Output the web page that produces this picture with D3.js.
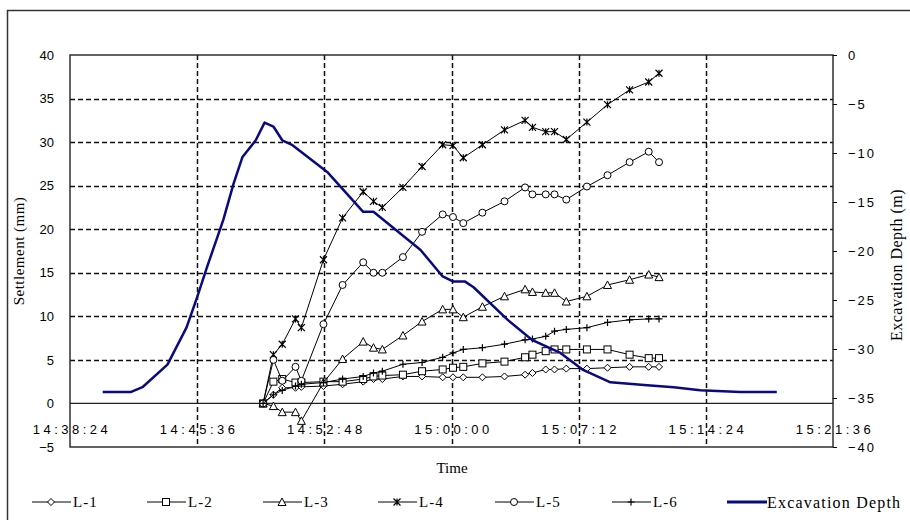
<!DOCTYPE html>
<html>
<head>
<meta charset="utf-8">
<script src="https://cdn.jsdelivr.net/npm/d3@7"></script>
<style>
  body { margin: 0; background: #fff; }
  text { fill: #000; }
</style>
</head>
<body>
<svg id="chart" width="910" height="520"></svg>
<script>
// measurement times shared by the six settlement points
const times = ["14:49:20","14:49:55","14:50:25","14:51:10","14:51:30","14:52:45","14:53:50",
  "14:55:00","14:55:35","14:56:05","14:57:15","14:58:20","14:59:30","15:00:05","15:00:40",
  "15:01:45","15:03:00","15:04:10","15:04:35","15:05:20","15:05:50","15:06:30","15:07:40",
  "15:08:50","15:10:05","15:11:10","15:11:45"];

// settlement (mm)
const l1 = [0,1.0,1.8,1.8,1.9,2.0,2.2,2.5,2.8,2.8,3.1,3.1,3.0,3.0,3.0,3.0,3.1,3.3,3.5,3.9,3.9,4.0,4.0,4.1,4.2,4.2,4.2];
const l2 = [0,2.5,2.8,2.4,2.4,2.5,2.5,2.8,3.1,3.2,3.3,3.7,3.9,4.1,4.2,4.6,4.8,5.3,5.6,6.0,6.2,6.2,6.2,6.2,5.6,5.2,5.2];
const l3 = [0,-0.3,-1.0,-1.0,-2.0,2.4,5.1,7.1,6.4,6.2,7.8,9.4,10.8,10.8,9.9,11.1,12.3,13.1,12.8,12.7,12.7,11.7,12.3,13.6,14.2,14.8,14.5];
const l4 = [0,5.6,6.8,9.7,8.7,16.5,21.3,24.3,23.2,22.5,24.8,27.2,29.7,29.6,28.2,29.7,31.4,32.5,31.7,31.2,31.2,30.3,32.3,34.3,36.0,36.9,37.9];
const l5 = [0,5.0,2.6,4.2,2.6,9.1,13.6,16.2,15.0,15.0,16.8,19.7,21.7,21.4,20.7,21.9,23.2,24.8,24.0,24.0,24.0,23.4,24.9,26.2,27.7,28.9,27.7];
const l6 = [0,1.0,1.5,2.0,2.2,2.4,2.8,3.1,3.5,3.7,4.5,4.7,5.3,5.8,6.2,6.4,6.8,7.3,7.4,7.7,8.3,8.5,8.7,9.3,9.6,9.7,9.7];

// excavation depth (m)
const digTimes = ["14:40:15","14:41:50","14:42:30","14:43:55","14:45:00","14:45:36","14:46:10",
  "14:47:05","14:47:40","14:48:10","14:48:55","14:49:25","14:49:55","14:50:25","14:51:00",
  "14:53:00","14:55:00","14:55:35","14:58:15","14:59:30","15:00:05","15:00:45","15:01:15",
  "15:03:10","15:04:35","15:06:10","15:07:25","15:09:00","15:11:05","15:12:35","15:14:05",
  "15:16:20","15:18:25"];
const digDepth = [-34.4,-34.4,-33.9,-31.6,-27.8,-24.7,-21.6,-16.8,-13.1,-10.4,-8.7,-6.9,-7.3,
  -8.7,-9.2,-12.0,-16.0,-16.0,-19.9,-22.6,-23.1,-23.1,-23.7,-27.0,-29.1,-30.4,-32.1,-33.4,
  -33.7,-33.9,-34.2,-34.4,-34.4];

const timeTicks = ["14:38:24","14:45:36","14:52:48","15:00:00","15:07:12","15:14:24","15:21:36"];
const leftTicks = [-5,0,5,10,15,20,25,30,35,40];
const rightTicks = [-40,-35,-30,-25,-20,-15,-10,-5,0];

const names = ["L-1","L-2","L-3","L-4","L-5","L-6"];
const seriesVals = [l1,l2,l3,l4,l5,l6];
const markers = ["diamond","square","triangle","star","circle","plus"];

const parse = d3.timeParse("%H:%M:%S");
const fmt = d3.timeFormat("%H:%M:%S");

var margin = {top: 55, left: 70, right: 77, bottom: 73},
    W = 910, H = 520,
    width = W - margin.left - margin.right,
    height = H - margin.top - margin.bottom;

var svg = d3.select("#chart");

// outer frame
svg.append("rect")
  .attr("x", 7.5).attr("y", 10.5).attr("width", 920).attr("height", 530)
  .attr("fill", "none").attr("stroke", "#333").attr("stroke-width", 1.5);

var g = svg.append("g").attr("transform", "translate(" + margin.left + "," + margin.top + ")");

var x = d3.scaleTime()
  .domain([parse(timeTicks[0]), parse(timeTicks[timeTicks.length - 1])])
  .range([0, width]);
var y = d3.scaleLinear().domain([-5, 40]).range([height, 0]);
var yR = d3.scaleLinear().domain([-40, 0]).range([height, 0]);

// grid
g.append("g")
  .selectAll("line")
  .data(leftTicks.filter(d => d > 0 && d < 40))
  .join("line")
    .attr("x1", 0).attr("x2", width)
    .attr("y1", d => Math.round(y(d)) + 0.5).attr("y2", d => Math.round(y(d)) + 0.5)
    .attr("stroke", "#111").attr("stroke-width", 1.5).attr("stroke-dasharray", "5,3");
g.append("g")
  .selectAll("line")
  .data(timeTicks.slice(1, -1).map(parse))
  .join("line")
    .attr("x1", d => Math.round(x(d)) + 0.5).attr("x2", d => Math.round(x(d)) + 0.5)
    .attr("y1", 0).attr("y2", height)
    .attr("stroke", "#111").attr("stroke-width", 1.5).attr("stroke-dasharray", "5,3");

// zero line
g.append("line")
  .attr("x1", 0).attr("x2", width).attr("y1", y(0)).attr("y2", y(0))
  .attr("stroke", "#222").attr("stroke-width", 1.2);

// plot border
g.append("rect")
  .attr("width", width).attr("height", height)
  .attr("fill", "none").attr("stroke", "#222").attr("stroke-width", 1.4);

// left axis
var axL = g.append("g")
  .call(d3.axisLeft(y).tickValues(leftTicks).tickSize(0).tickPadding(16));
axL.select(".domain").remove();
axL.selectAll("text").attr("font-family", "Liberation Sans, sans-serif").attr("font-size", 13);

// right axis
var axR = g.append("g")
  .attr("transform", "translate(" + width + ",0)")
  .call(d3.axisRight(yR).tickValues(rightTicks).tickSize(4).tickPadding(11));
axR.select(".domain").remove();
axR.selectAll("text").attr("font-family", "Liberation Sans, sans-serif").attr("font-size", 13)
  .attr("letter-spacing", 2);

// time labels sit inside the plot, between 0 and -5
var axT = g.append("g")
  .attr("transform", "translate(0," + y(0) + ")")
  .call(d3.axisBottom(x).tickValues(timeTicks.map(parse)).tickFormat(fmt).tickSize(0));
axT.select(".domain").remove();
axT.selectAll("text").attr("font-family", "Liberation Sans, sans-serif").attr("font-size", 13)
  .attr("letter-spacing", 3.5).attr("dy", "0.35em").attr("y", 26).attr("dx", 1.5);

// titles
svg.append("text")
  .attr("transform", "translate(24," + (margin.top + height / 2) + ") rotate(-90)")
  .attr("text-anchor", "middle")
  .attr("font-family", "Liberation Serif, serif").attr("font-size", 15)
  .attr("letter-spacing", 0.5)
  .text("Settlement (mm)");
svg.append("text")
  .attr("transform", "translate(902,265) rotate(-90)")
  .attr("text-anchor", "middle")
  .attr("font-family", "Liberation Serif, serif").attr("font-size", 16)
  .attr("letter-spacing", 0.5)
  .text("Excavation Depth (m)");
svg.append("text")
  .attr("x", 452).attr("y", 473)
  .attr("text-anchor", "middle")
  .attr("font-family", "Liberation Serif, serif").attr("font-size", 15)
  .text("Time");

// marker drawing
function drawMarker(sel, type) {
  const s = 3.5;
  if (type === "diamond") {
    sel.append("path").attr("d", `M0,${-s}L${s},0L0,${s}L${-s},0Z`)
      .attr("fill", "#fff").attr("stroke", "#000").attr("stroke-width", 1);
  } else if (type === "square") {
    sel.append("rect").attr("x", -s).attr("y", -s).attr("width", 2 * s).attr("height", 2 * s)
      .attr("fill", "#fff").attr("stroke", "#000").attr("stroke-width", 1);
  } else if (type === "triangle") {
    sel.append("path").attr("d", `M0,${-s - 0.5}L${s + 0.5},${s}L${-s - 0.5},${s}Z`)
      .attr("fill", "#fff").attr("stroke", "#000").attr("stroke-width", 1);
  } else if (type === "circle") {
    sel.append("circle").attr("r", s)
      .attr("fill", "#fff").attr("stroke", "#000").attr("stroke-width", 1);
  } else if (type === "star") {
    sel.append("path").attr("d", `M${-s},${-s}L${s},${s}M${-s},${s}L${s},${-s}M0,${-s}L0,${s}`)
      .attr("fill", "none").attr("stroke", "#000").attr("stroke-width", 1.2);
  } else if (type === "plus") {
    sel.append("path").attr("d", `M0,${-s}L0,${s}M${-s},0L${s},0`)
      .attr("fill", "none").attr("stroke", "#000").attr("stroke-width", 1.2);
  }
}

var tParsed = times.map(parse);
var line = d3.line().x(d => x(d.t)).y(d => y(d.v));

seriesVals.forEach(function(vals, i) {
  var pts = vals.map((v, j) => ({t: tParsed[j], v: v}));
  g.append("path").datum(pts)
    .attr("d", line).attr("fill", "none").attr("stroke", "#000").attr("stroke-width", 1);
  g.append("g").selectAll("g")
    .data(pts)
    .join("g")
      .attr("transform", d => "translate(" + x(d.t) + "," + y(d.v) + ")")
      .each(function() { drawMarker(d3.select(this), markers[i]); });
});

// excavation depth
var digPts = digTimes.map((t, j) => ({t: parse(t), v: digDepth[j]}));
g.append("path").datum(digPts)
  .attr("d", d3.line().x(d => x(d.t)).y(d => yR(d.v)))
  .attr("fill", "none").attr("stroke", "#0a0a80").attr("stroke-width", 2.5)
  .attr("stroke-linejoin", "round");

// legend
var leg = svg.append("g").attr("transform", "translate(0,502)");
var legX = [32, 147, 263, 378, 495, 612];
names.forEach(function(n, i) {
  var it = leg.append("g").attr("transform", "translate(" + legX[i] + ",0)");
  it.append("line").attr("x1", 0).attr("x2", 39).attr("stroke", "#000").attr("stroke-width", 1);
  drawMarker(it.append("g").attr("transform", "translate(19,0)"), markers[i]);
  it.append("text").attr("x", 41).attr("dy", "0.35em")
    .attr("font-family", "Liberation Serif, serif").attr("font-size", 15)
    .attr("letter-spacing", 1).text(n);
});
var itD = leg.append("g").attr("transform", "translate(727,0)");
itD.append("line").attr("x1", 0).attr("x2", 40).attr("stroke", "#0a0a80").attr("stroke-width", 3);
itD.append("text").attr("x", 40).attr("dy", "0.35em")
  .attr("font-family", "Liberation Serif, serif").attr("font-size", 16)
  .attr("letter-spacing", 1.2)
  .text("Excavation Depth");
</script>
</body>
</html>
